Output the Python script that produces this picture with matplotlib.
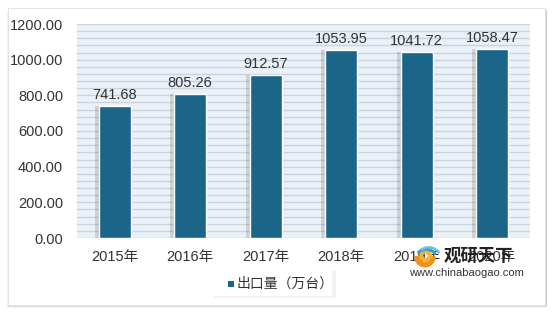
import matplotlib
matplotlib.use("Agg")
import matplotlib.pyplot as plt
from matplotlib.patches import Rectangle, Arc, Wedge
import numpy as np

plt.rcParams["font.family"] = ["Noto Sans CJK SC", "DejaVu Sans"]

years = ["2015年", "2016年", "2017年", "2018年", "2019年", "2020年"]
exports = [741.68, 805.26, 912.57, 1053.95, 1041.72, 1058.47]
series_name = "出口量（万台）"

BAR_COLOR = "#1b6688"
BG_COLOR = "#eaf1f8"
STRIPE_COLOR = "#cdd3da"
TEXT_COLOR = "#333333"
NUM_FONT = ["Liberation Sans", "DejaVu Sans"]
LABEL_FONT = ["Liberation Sans", "Noto Sans CJK SC"]

W, H = 553, 317
fig = plt.figure(figsize=(W / 100, H / 100), dpi=100)
fig.patch.set_facecolor("white")

# outer panel with soft shadow
for i, a in enumerate([0.05, 0.07, 0.09]):
    off = 3 - i
    fig.patches.append(Rectangle(((8 - off + 2) / W, (12 - off) / H), (537 + off) / W, 297 / H,
                                 transform=fig.transFigure, facecolor="#000000",
                                 alpha=a, edgecolor="none", zorder=0))
fig.patches.append(Rectangle((8 / W, 12 / H), 537 / W, 297 / H,
                             transform=fig.transFigure, facecolor="white",
                             edgecolor="#e0e0e0", linewidth=0.6, zorder=1))

ax = fig.add_axes([77 / W, 1 - 238 / H, 453 / W, 214 / H])
ax.set_zorder(2)
ax.set_facecolor(BG_COLOR)
x = np.arange(len(years))

for yv in np.arange(0, 1201, 40):
    ax.axhline(yv, color=STRIPE_COLOR, linewidth=1.0, zorder=1)

# bar shadows
ax.bar(x - 0.045, exports, width=0.44, color="#000000", alpha=0.13,
       linewidth=0, zorder=2)
ax.bar(x, exports, width=0.42, color=BAR_COLOR, edgecolor="white",
       linewidth=1.0, zorder=3)
for xi, v in zip(x, exports):
    ax.text(xi, v + 22, f"{v:.2f}", ha="center", va="bottom", fontsize=10.5,
            color=TEXT_COLOR, zorder=4, family=NUM_FONT)

ax.set_xlim(-0.5, len(years) - 0.5)
ax.set_ylim(0, 1200)
ax.set_yticks(np.arange(0, 1201, 200))
ax.set_yticklabels([f"{t:.2f}" for t in np.arange(0, 1201, 200)],
                   family=NUM_FONT)
ax.set_xticks(x)
ax.set_xticklabels(years, family=LABEL_FONT)
ax.tick_params(axis="both", length=0, labelsize=10.5, colors=TEXT_COLOR)
ax.tick_params(axis="y", pad=10)
ax.tick_params(axis="x", pad=9)
for s in ax.spines.values():
    s.set_visible(False)

# legend with shadow box
fig.patches.append(Rectangle((214 / W, 1 - 298 / H), 122 / W, 27 / H,
                             transform=fig.transFigure, facecolor="#000000",
                             alpha=0.05, edgecolor="none", zorder=1))
fig.patches.append(Rectangle((212 / W, 1 - 296 / H), 120 / W, 25 / H,
                             transform=fig.transFigure, facecolor="white",
                             edgecolor="none", zorder=1))
fig.patches.append(Rectangle((228 / W, 1 - 287 / H), 6 / W, 6 / H,
                             transform=fig.transFigure, facecolor=BAR_COLOR,
                             edgecolor="none", zorder=3))
fig.text(237 / W, 1 - 284 / H, series_name, ha="left", va="center",
         fontsize=10, color=TEXT_COLOR, zorder=3)

# watermark logo and text
lax = fig.add_axes([410 / W, 1 - 268 / H, 30 / W, 25 / H])
lax.set_zorder(5)
lax.set_xlim(-1.2, 1.2)
lax.set_ylim(-1.0, 1.0)
lax.axis("off")
lax.add_patch(Wedge((0, -0.1), 0.8, 180, 360, width=0.35, color="#f0921e"))
lax.add_patch(Wedge((0.05, 0.0), 0.45, 0, 360, width=0.2, color="#f5b335"))
lax.add_patch(Arc((0.1, -0.2), 1.6, 1.4, theta1=20, theta2=150, color="#3a9fc8", lw=2.2))
lax.add_patch(Arc((0.3, -0.3), 2.0, 1.9, theta1=30, theta2=130, color="#6cc0e0", lw=1.8))
fig.text(444 / W, 1 - 256 / H, "观研天下", ha="left", va="center",
         fontsize=12.5, fontweight="bold", color="#222222", zorder=6)
fig.text(409 / W, 1 - 273 / H, "www.chinabaogao.com", ha="left", va="center",
         fontsize=8, color="#333333", zorder=6, family=NUM_FONT)

fig.savefig("out.png", dpi=100)
